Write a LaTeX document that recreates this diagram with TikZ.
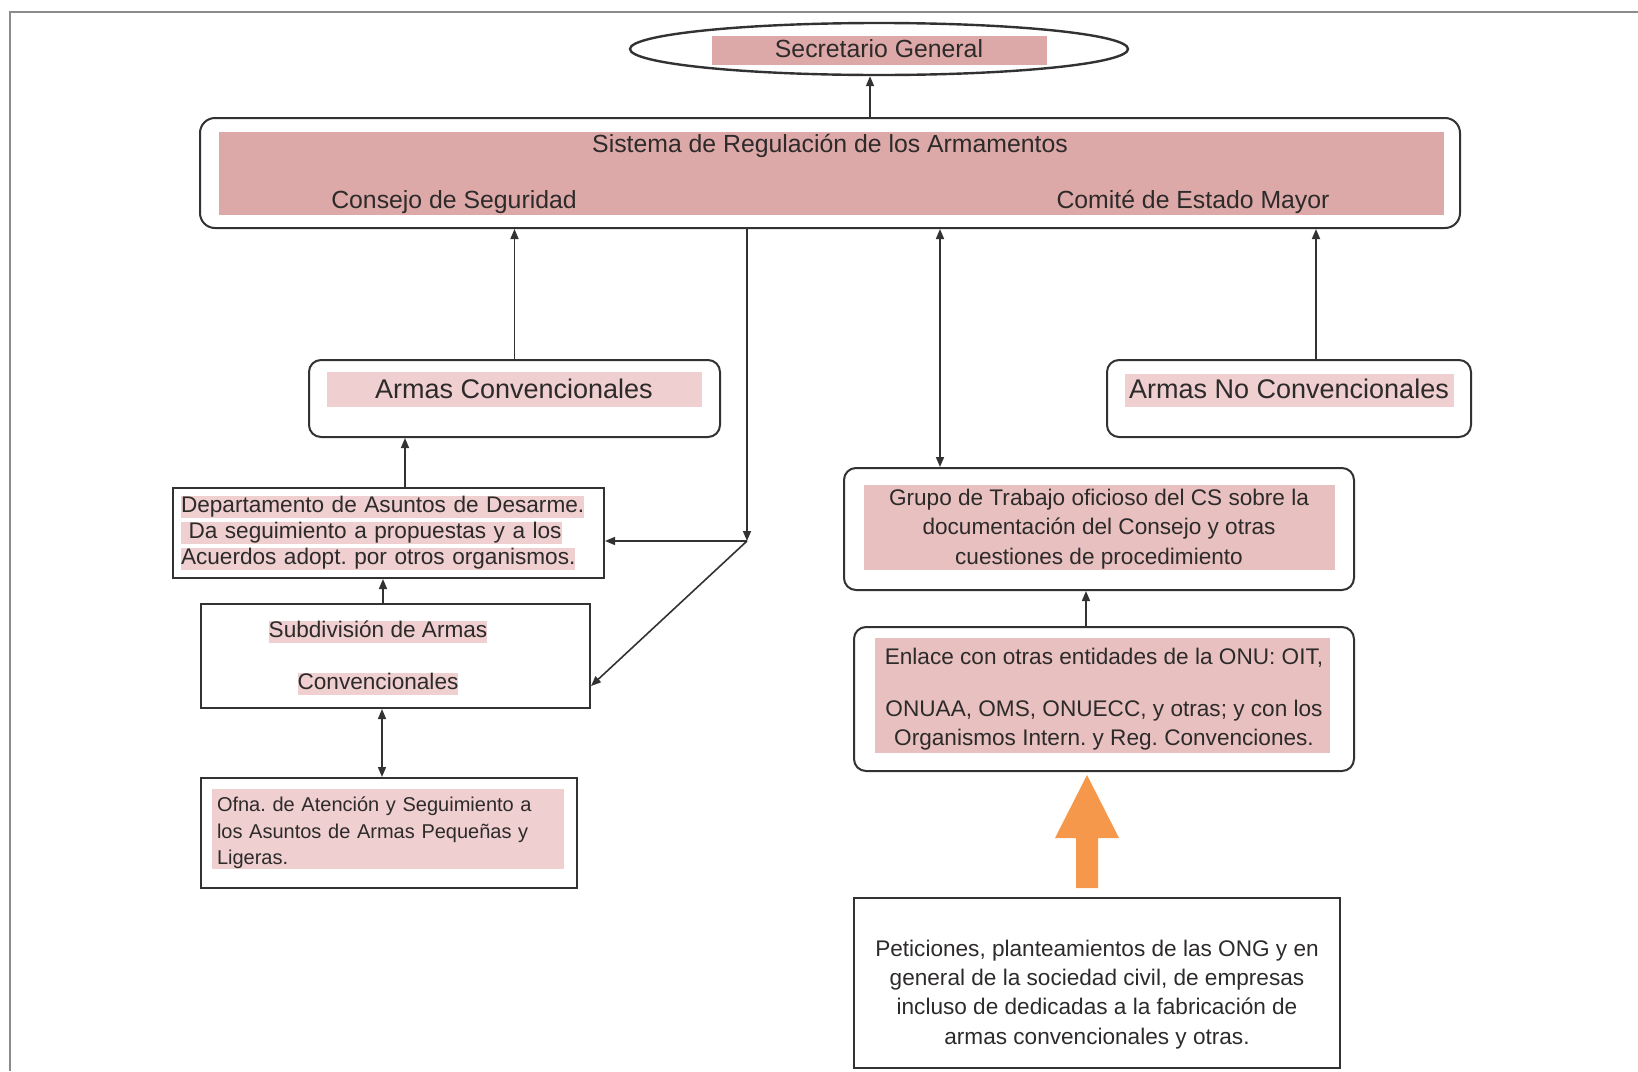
\documentclass[tikz,border=0pt]{standalone}
\usepackage{fontspec}
\setmainfont{Liberation Sans}
\usepackage{xcolor}
\usetikzlibrary{arrows.meta}
\usetikzlibrary{calc}
\usetikzlibrary{shapes.geometric}
\usetikzlibrary{backgrounds}
\frenchspacing

\definecolor{rosa}{RGB}{221,168,168}
\definecolor{rosamedio}{RGB}{232,192,192}
\definecolor{rosaclaro}{RGB}{239,207,207}
\definecolor{naranja}{RGB}{246,152,76}
\definecolor{borde}{RGB}{50,50,50}
\definecolor{marco}{RGB}{140,140,140}
\definecolor{tinta}{RGB}{45,42,42}

\newcommand{\resalta}[1]{{\setlength{\fboxsep}{0pt}\colorbox{rosaclaro}{\rule[-0.22em]{0pt}{0.92em}#1}}}

\begin{document}
\begin{tikzpicture}[x=0.5pt,y=-0.5pt,>={Triangle[length=5pt,width=4pt]},
    caja/.style={draw=borde,line width=1pt,inner sep=0pt,text=tinta},
    redonda/.style={caja,rounded corners=6pt},
    grande/.style={font=\fontsize{12.4}{15}\selectfont,text=tinta},
    mayor/.style={font=\fontsize{13.5}{16}\selectfont,text=tinta},
    texto/.style={font=\fontsize{11.3}{14.6}\selectfont,text=tinta,align=center},
    flecha/.style={borde,line width=0.8pt}]
  \useasboundingbox (0,0) rectangle (1638,1071);
  \draw[marco,line width=1.2pt] (10,1071) -- (10,12) -- (1638,12);

  \node[caja,ellipse,line width=1.2pt,minimum width=249pt,minimum height=26pt,grande] (sec) at (879,49) {Secretario General};

  \node[redonda,rounded corners=7.5pt,minimum width=630pt,minimum height=55pt] (sis) at (830,173) {};
  \node[grande] (sistema) at (830,146) {Sistema de Regulación de los Armamentos};
  \node[grande] (consejo) at (454,202) {Consejo de Seguridad};
  \node[grande] (comite) at (1193,202) {Comité de Estado Mayor};

  \node[redonda,minimum width=205.5pt,minimum height=38.5pt] (armc) at (514.5,398.5) {};
  \node[mayor] (armctexto) at (514,389) {Armas Convencionales};
  \node[redonda,minimum width=182pt,minimum height=38.5pt] (armnc) at (1289,398.5) {};
  \node[mayor] (armnctexto) at (1289,389) {Armas No Convencionales};

  \node[caja,texto,align=left,text width=207.5pt,inner xsep=4pt,minimum height=45pt,font=\fontsize{11.3}{13}\selectfont] (dep) at (388.5,533)
    {\resalta{Departamento de Asuntos de Desarme.}\\\resalta{\ Da seguimiento a propuestas y a los}\\\resalta{Acuerdos adopt. por otros organismos.}};

  \node[caja,minimum width=194.5pt,minimum height=52pt] (sub) at (395.5,656) {};
  \node[texto] (subtexto) at (378,658) {\resalta{Subdivisión de Armas}\\[11.4pt]\resalta{Convencionales}};

  \node[caja,align=left,text width=172pt,inner xsep=8pt,minimum height=55pt,font=\fontsize{10}{13.2}\selectfont] (ofna) at (389,833)
    {Ofna. de Atención y Seguimiento a\\los Asuntos de Armas Pequeñas y\\Ligeras.};

  \node[redonda,texto,minimum width=255pt,minimum height=61pt] (grupo) at (1099,529)
    {Grupo de Trabajo oficioso del CS sobre la\\documentación del Consejo y otras\\cuestiones de procedimiento};
  \node[redonda,texto,minimum width=250pt,minimum height=72pt] (enlace) at (1104,699)
    {Enlace con otras entidades de la ONU: OIT,\\[11.4pt]ONUAA, OMS, ONUECC, y otras; y con los\\Organismos Intern. y Reg. Convenciones.};

  \node[caja,minimum width=243pt,minimum height=85pt] (pet) at (1097,983) {};
  \node[texto] (pettexto) at (1097,994.5)
    {Peticiones, planteamientos de las ONG y en\\general de la sociedad civil, de empresas\\incluso de dedicadas a la fabricación de\\armas convencionales y otras.};

  \begin{scope}[on background layer]
    \fill[rosa] (712,36) rectangle (1047,65);
    \fill[rosa] (219,132) rectangle (1444,215);
    \fill[rosaclaro] (327,372) rectangle (702,407);
    \fill[rosaclaro] (1125,374) rectangle (1454,407);
    \fill[rosamedio] (864,485) rectangle (1335,570);
    \fill[rosamedio] (875,638) rectangle (1330,753);
    \fill[rosaclaro] (212,789) rectangle (564,869);
  \end{scope}

  \coordinate (xsec) at (870,0);
  \coordinate (xnc) at (1316,0);
  \coordinate (xg) at (940,0);
  \coordinate (xd) at (405,0);
  \coordinate (xs) at (383,0);
  \coordinate (xo) at (382,0);
  \coordinate (xe) at (1086,0);
  \coordinate (nudo) at (747,541);
  \coordinate (punta) at (1087,775);

  \path[->,flecha] (sis.north -| xsec) edge (sec.south -| xsec);
  \path[->,flecha] (armc.north) edge (armc.north |- sis.south);
  \path[->,flecha] (armnc.north -| xnc) edge (sis.south -| xnc);
  \path[<->,flecha] (sis.south -| xg) edge (grupo.north -| xg);
  \path[->,flecha] (sis.south -| nudo) edge (nudo);
  \path[->,flecha] (nudo) edge (nudo -| dep.east);
  \path[->,flecha] (nudo) edge ([yshift=-15pt]sub.east);
  \path[->,flecha] (dep.north -| xd) edge (armc.south -| xd);
  \path[->,flecha] (sub.north -| xs) edge (dep.south -| xs);
  \path[<->,flecha] (sub.south -| xo) edge (ofna.north -| xo);
  \path[->,flecha] (enlace.north -| xe) edge (grupo.south -| xe);

  \fill[naranja] (punta) -- ++(32,63) -- ++(-21,0) -- ++(0,50) -- ++(-22,0) -- ++(0,-50) -- ++(-21,0) -- cycle;
\end{tikzpicture}
\end{document}
